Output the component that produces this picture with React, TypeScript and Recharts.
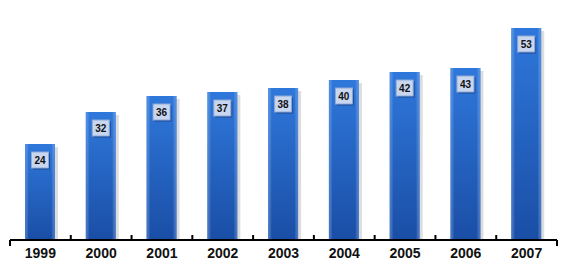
import React from "react";
import { BarChart, Bar, XAxis, YAxis, LabelList } from "recharts";

const years = ["1999", "2000", "2001", "2002", "2003", "2004", "2005", "2006", "2007"];
const values = [24, 32, 36, 37, 38, 40, 42, 43, 53];

const data = years.map((year, i) => ({ year, value: values[i] }));

const W = 567;
const H = 272;
const LEFT = 10;
const RIGHT = 10;
const band = (W - LEFT - RIGHT) / years.length;

const renderBar = (props: any) => {
  const x = Number(props.x);
  const y = Number(props.y);
  const width = Number(props.width);
  const height = Number(props.height);
  if (!(height > 0)) return <g />;
  return (
    <g>
      <rect x={x + 3} y={y + 3} width={width} height={height - 3} fill="#cfcfcf" opacity={0.7} />
      <rect x={x} y={y} width={width} height={height} fill="url(#barGrad)" />
      <rect x={x} y={y} width={width} height={height} fill="url(#barSide)" />
    </g>
  );
};

const ValueLabel = (props: any) => {
  const { x, y, width, value } = props;
  const cx = x + width / 2;
  const bw = 17;
  const bh = 16;
  const top = y + 8;
  return (
    <g>
      <rect x={cx - bw / 2 + 1.5} y={top + 1.5} width={bw} height={bh} fill="#0d2f70" opacity={0.6} />
      <rect x={cx - bw / 2} y={top} width={bw} height={bh} fill="#c8d7ef" stroke="#8fa9d6" strokeWidth={1} />
      <text
        x={cx}
        y={top + bh / 2 + 3.5}
        textAnchor="middle"
        fontSize={10}
        fontWeight="bold"
        fontFamily="Liberation Sans, Arial, sans-serif"
        fill="#111"
      >
        {value}
      </text>
    </g>
  );
};

const YearTick = (props: any) => {
  const { x, y, payload, index } = props;
  const left = x - band / 2;
  const right = x + band / 2;
  const lineY = y - 8;
  return (
    <g>
      {index === 0 ? (
        <line x1={left} y1={lineY} x2={left} y2={lineY + 6} stroke="#000" strokeWidth={2} />
      ) : (
        <line x1={left} y1={lineY - 5} x2={left} y2={lineY} stroke="#000" strokeWidth={2} />
      )}
      {index === years.length - 1 && (
        <line x1={right} y1={lineY} x2={right} y2={lineY + 6} stroke="#000" strokeWidth={2} />
      )}
      <text
        x={x}
        y={y + 10}
        textAnchor="middle"
        fontSize={14}
        fontWeight="bold"
        fontFamily="Liberation Sans, Arial, sans-serif"
        fill="#111"
      >
        {payload.value}
      </text>
    </g>
  );
};

export default function App() {
  return (
    <div style={{ position: "absolute", left: 0, top: 0, width: W, height: H, background: "#fff" }}>
      <BarChart
        width={W}
        height={H}
        data={data}
        margin={{ top: 0, right: RIGHT, left: LEFT, bottom: 0 }}
        barSize={30}
      >
        <defs>
          <linearGradient id="barGrad" x1="0" y1="0" x2="0" y2="1">
            <stop offset="0%" stopColor="#2f78db" />
            <stop offset="100%" stopColor="#1a4ea6" />
          </linearGradient>
          <linearGradient id="barSide" x1="0" y1="0" x2="1" y2="0">
            <stop offset="0%" stopColor="#6fa3ea" stopOpacity={0.45} />
            <stop offset="12%" stopColor="#ffffff" stopOpacity={0} />
            <stop offset="88%" stopColor="#ffffff" stopOpacity={0} />
            <stop offset="100%" stopColor="#6fa3ea" stopOpacity={0.45} />
          </linearGradient>
        </defs>
        <YAxis hide domain={[0, 60]} />
        <XAxis
          dataKey="year"
          height={32}
          interval={0}
          axisLine={{ stroke: "#000", strokeWidth: 2 }}
          tickLine={false}
          tick={<YearTick />}
        />
        <Bar dataKey="value" fill="#2a6ad0" shape={renderBar} isAnimationActive={false}>
          <LabelList dataKey="value" content={<ValueLabel />} />
        </Bar>
      </BarChart>
    </div>
  );
}
